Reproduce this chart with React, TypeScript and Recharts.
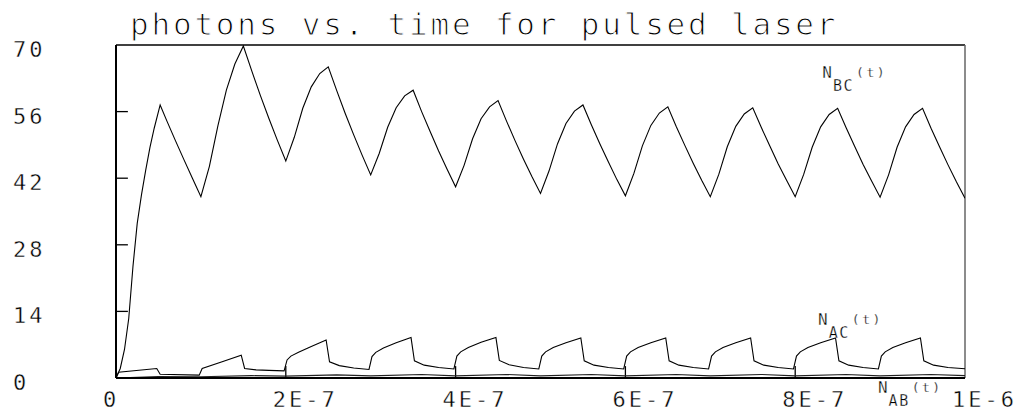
import React from "react";
import { LineChart, Line, XAxis, YAxis, ReferenceLine, ReferenceDot } from "recharts";

// time in ns (1E-9 s)
const xTicks = [0, 200, 400, 600, 800, 1000];
const xTickLabels = ["0", "2E-7", "4E-7", "6E-7", "8E-7", "1E-6"];
const yTicks = [0, 14, 28, 42, 56, 70];
const xInnerTicks = [200, 400, 600, 800];
const yInnerTicks = [14, 28, 42, 56];
const title = "photons vs. time for pulsed laser";

const bcT = [
  0, 5, 10, 15, 20, 25, 30, 35, 40, 45, 52, 60, 70, 80, 90,
  100, 110, 120, 130, 140, 150, 160, 170, 180, 190,
  200, 210, 220, 230, 240, 250, 260, 270, 280, 290,
  300, 310, 320, 330, 340, 350, 360, 370, 380, 390,
  400, 410, 420, 430, 440, 450, 460, 470, 480, 490,
  500, 510, 520, 530, 540, 550, 560, 570, 580, 590,
  600, 610, 620, 630, 640, 650, 660, 670, 680, 690,
  700, 710, 720, 730, 740, 750, 760, 770, 780, 790,
  800, 810, 820, 830, 840, 850, 860, 870, 880, 890,
  900, 910, 920, 930, 940, 950, 960, 970, 980, 990,
  1000,
];
const bcN = [
  0, 2, 6, 12.5, 23.5, 32.5, 38.5, 43.7, 48.5, 52.5, 57.4, 54.0, 49.9, 45.9, 42.0,
  38.1, 44.5, 53.0, 60.5, 66.0, 69.8, 64.5, 59.4, 54.6, 50.0,
  45.6, 50.6, 56.7, 61.2, 64.0, 65.4, 60.4, 55.6, 51.1, 46.8,
  42.7, 47.2, 52.7, 56.8, 59.3, 60.5, 56.0, 51.8, 47.7, 43.9,
  40.2, 44.7, 50.3, 54.5, 57.0, 58.3, 54.0, 49.9, 46.0, 42.3,
  38.8, 43.5, 49.2, 53.5, 56.1, 57.4, 53.2, 49.2, 45.4, 41.7,
  38.3, 43.0, 48.8, 53.1, 55.7, 57.0, 52.8, 48.9, 45.1, 41.5,
  38.1, 42.8, 48.6, 52.9, 55.5, 56.8, 52.7, 48.8, 45.0, 41.5,
  38.1, 42.8, 48.5, 52.8, 55.4, 56.7, 52.6, 48.7, 44.9, 41.4,
  38.0, 42.7, 48.5, 52.8, 55.4, 56.7, 52.5, 48.6, 44.8, 41.2,
  37.8,
];

const acT = [
  0, 3, 48, 52, 98,
  101.5, 125, 147.5, 151.5, 165, 180, 198,
  201.5, 206, 215, 230, 247.5, 251.5, 263, 280, 298,
  301.5, 306, 315, 330, 347.5, 351.5, 363, 380, 398,
  401.5, 406, 415, 430, 447.5, 451.5, 463, 480, 498,
  501.5, 506, 515, 530, 547.5, 551.5, 563, 580, 598,
  601.5, 606, 615, 630, 647.5, 651.5, 663, 680, 698,
  701.5, 706, 715, 730, 747.5, 751.5, 763, 780, 798,
  801.5, 806, 815, 830, 847.5, 851.5, 863, 880, 898,
  901.5, 906, 915, 930, 947.5, 951.5, 963, 980, 1000,
];
const acN = [
  0, 1.2, 2.0, 0.8, 0.6,
  2.0, 3.4, 4.8, 2.0, 1.7, 1.6, 1.5,
  3.8, 4.6, 5.4, 6.6, 8.0, 3.4, 2.6, 2.1, 1.8,
  4.5, 5.4, 6.3, 7.4, 8.5, 3.6, 2.7, 2.2, 1.9,
  4.6, 5.5, 6.4, 7.5, 8.5, 3.7, 2.8, 2.2, 1.9,
  4.6, 5.5, 6.4, 7.4, 8.4, 3.6, 2.7, 2.2, 1.9,
  4.6, 5.5, 6.4, 7.4, 8.4, 3.6, 2.7, 2.2, 1.9,
  4.6, 5.5, 6.4, 7.4, 8.4, 3.6, 2.7, 2.2, 1.9,
  4.6, 5.5, 6.4, 7.4, 8.4, 3.6, 2.7, 2.2, 1.9,
  4.6, 5.5, 6.4, 7.4, 8.4, 3.6, 2.7, 2.2, 1.95,
];

const abT = [0, 50, 100, 160, 200, 260, 300, 360, 400, 460, 500, 560, 600, 660, 700, 760, 800, 860, 900, 960, 1000];
const abN = [0, 0.3, 0.25, 0.5, 0.4, 0.65, 0.45, 0.75, 0.45, 0.75, 0.45, 0.75, 0.45, 0.75, 0.45, 0.75, 0.45, 0.75, 0.45, 0.75, 0.5];

// curve label anchors (data coordinates)
const labelBC = { t: 832, v: 63.1, sub: "BC" };
const labelAC = { t: 827, v: 11.1, sub: "AC" };
const labelAB = { t: 897.5, v: -3.15, sub: "AB" };

const bcData = bcT.map((t, i) => ({ t, v: bcN[i] }));
const acData = acT.map((t, i) => ({ t, v: acN[i] }));
const abData = abT.map((t, i) => ({ t, v: abN[i] }));

// inward tick marks (axis decoration), lengths in data units (~12 px)
const X_TICK_LEN = 2.5; // y units
const Y_TICK_LEN = 14; // x units (ns)
const yTickMarks = yInnerTicks.map((v) => [{ t: 0, v }, { t: Y_TICK_LEN, v }]);
const xTickMarks = xInnerTicks.map((t) => [{ t, v: 0 }, { t, v: X_TICK_LEN }]);

const FONT = "'DejaVu Sans Mono', monospace";

const YTick = (props: any) => {
  const { x, y, payload } = props;
  return (
    <text
      x={x - 103}
      y={y + 12}
      fontFamily={FONT}
      fontSize={22}
      letterSpacing={3}
      fill="#000"
      stroke="#fff"
      strokeWidth={0.4}
      textAnchor="start"
    >
      {String(payload.value)}
    </text>
  );
};

const XTick = (props: any) => {
  const { x, y, payload } = props;
  const idx = xTicks.indexOf(payload.value);
  return (
    <text
      x={x - 13}
      y={y + 29}
      fontFamily={FONT}
      fontSize={22}
      letterSpacing={3}
      fill="#000"
      stroke="#fff"
      strokeWidth={0.4}
      textAnchor="start"
    >
      {xTickLabels[idx]}
    </text>
  );
};

const curveLabel = (sub: string) => (p: any) => (
  <text x={p.cx} y={p.cy} fontFamily={FONT} fontSize={16} fill="#000" stroke="#fff" strokeWidth={0.3}>
    <tspan>N</tspan>
    <tspan fontSize={15} dy={13} dx={1} letterSpacing={1.5}>{sub}</tspan>
    <tspan fontSize={13} dy={-14} dx={2} letterSpacing={2.5}>(t)</tspan>
  </text>
);

export default function App() {
  return (
    <div style={{ position: "absolute", left: 0, top: 0, width: 1028, height: 411, background: "#fff" }}>
      <svg width={1028} height={60} style={{ position: "absolute", left: 0, top: 0 }}>
        <text
          x={130}
          y={35}
          fontFamily={FONT}
          fontSize={31}
          letterSpacing={2.8}
          fill="#000"
          stroke="#fff"
          strokeWidth={1.1}
        >
          {title}
        </text>
      </svg>
      <div style={{ position: "absolute", left: 0, top: 0 }}>
        <LineChart width={1028} height={411} margin={{ top: 45, right: 63, bottom: 0, left: 13 }}>
          <XAxis
            dataKey="t"
            type="number"
            domain={[0, 1000]}
            ticks={xTicks}
            height={33}
            tickSize={0}
            tickMargin={0}
            tickLine={false}
            axisLine={{ stroke: "#000", strokeWidth: 2 }}
            tick={<XTick />}
            allowDataOverflow
            interval={0}
          />
          <YAxis
            type="number"
            domain={[0, 70]}
            ticks={yTicks}
            width={103}
            tickSize={0}
            tickMargin={0}
            tickLine={false}
            axisLine={{ stroke: "#000", strokeWidth: 2 }}
            tick={<YTick />}
            allowDataOverflow
            interval={0}
          />
          <ReferenceLine y={70} stroke="#000" strokeWidth={1.3} />
          <ReferenceLine x={1000} stroke="#666" strokeWidth={1.5} />
          {yTickMarks.map((d, i) => (
            <Line key={"ytm" + i} data={d} dataKey="v" type="linear" stroke="#000" strokeWidth={1.3} dot={false} activeDot={false} isAnimationActive={false} />
          ))}
          {xTickMarks.map((d, i) => (
            <Line key={"xtm" + i} data={d} dataKey="v" type="linear" stroke="#000" strokeWidth={1.3} dot={false} activeDot={false} isAnimationActive={false} />
          ))}
          <Line data={abData} dataKey="v" type="linear" stroke="#222" strokeWidth={1.1} dot={false} isAnimationActive={false} />
          <Line data={acData} dataKey="v" type="linear" stroke="#000" strokeWidth={1.1} dot={false} isAnimationActive={false} />
          <Line data={bcData} dataKey="v" type="linear" stroke="#000" strokeWidth={1.1} dot={false} isAnimationActive={false} />
          <ReferenceDot x={labelBC.t} y={labelBC.v} r={0} ifOverflow="visible" shape={curveLabel(labelBC.sub)} />
          <ReferenceDot x={labelAC.t} y={labelAC.v} r={0} ifOverflow="visible" shape={curveLabel(labelAC.sub)} />
          <ReferenceDot x={labelAB.t} y={labelAB.v} r={0} ifOverflow="visible" shape={curveLabel(labelAB.sub)} />
        </LineChart>
      </div>
    </div>
  );
}
